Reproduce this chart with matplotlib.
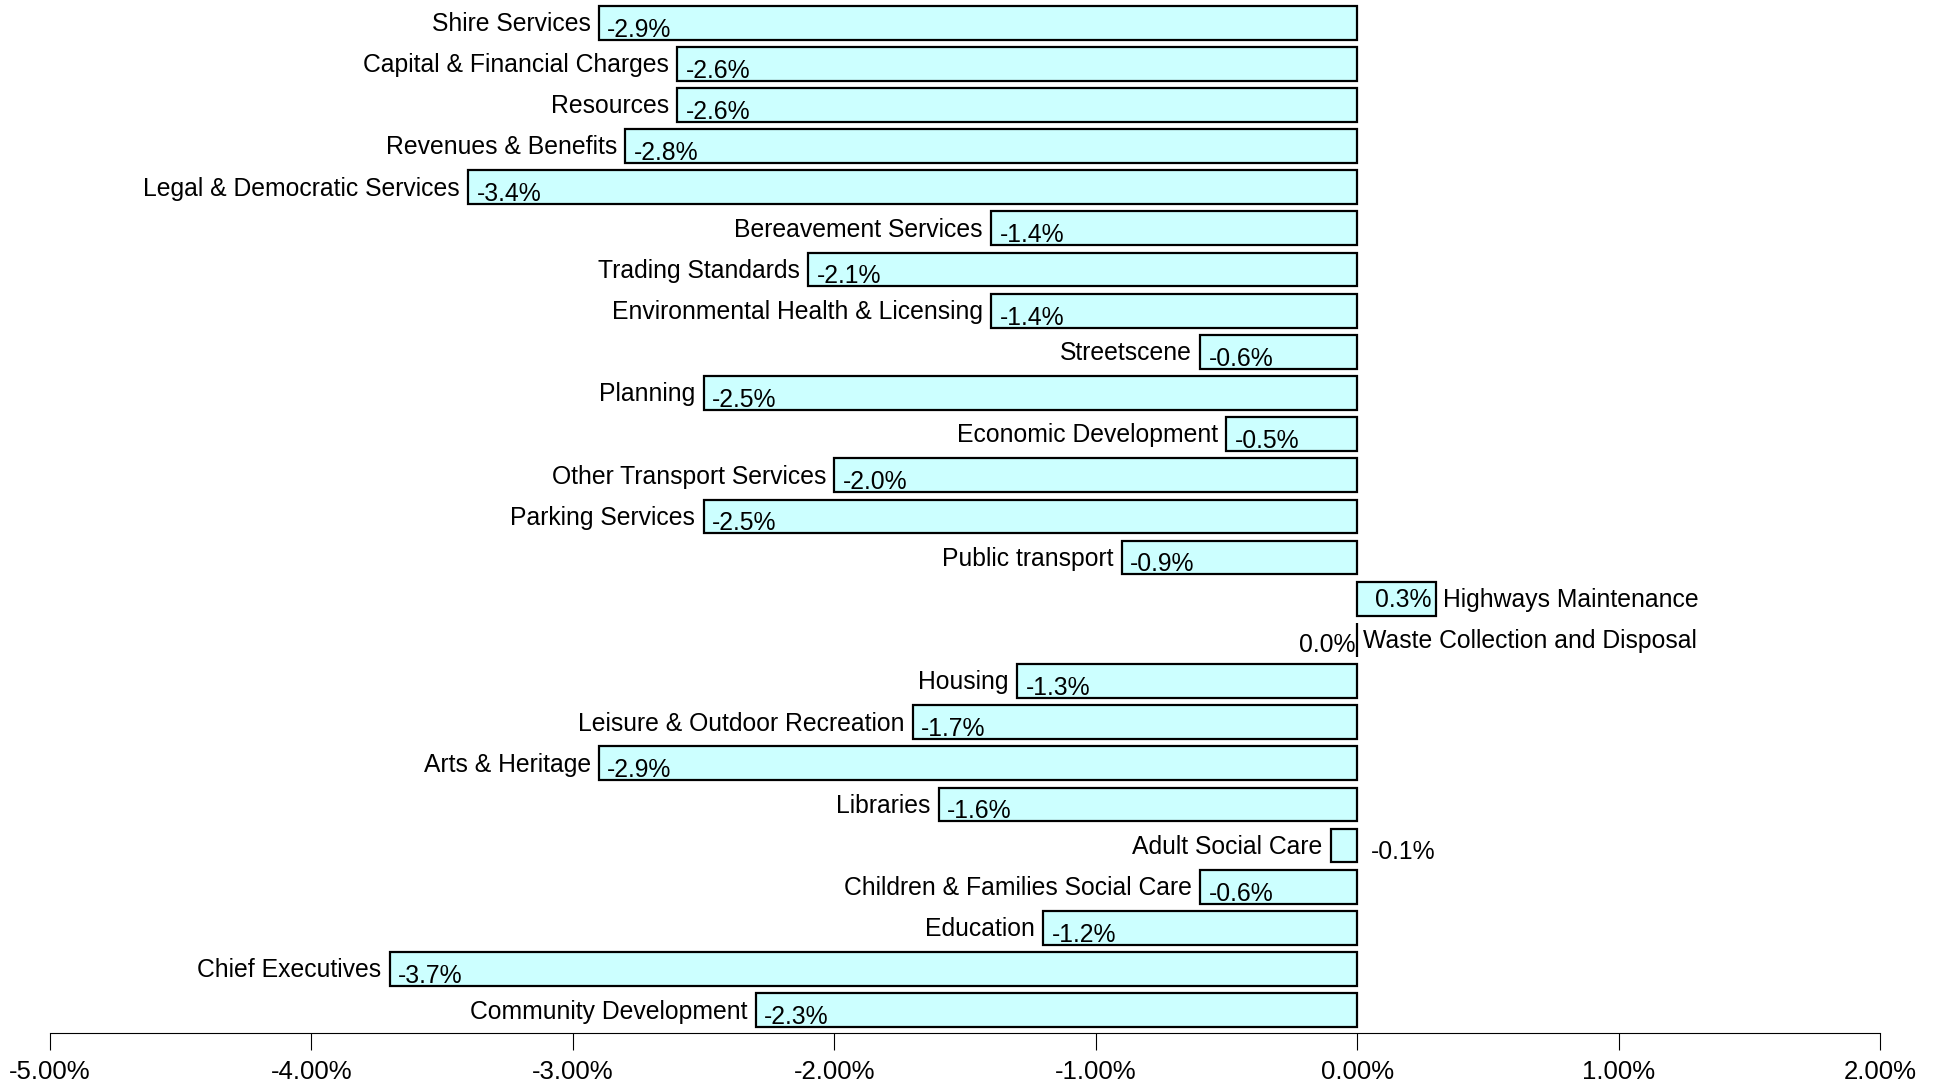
import matplotlib.pyplot as plt
from matplotlib.ticker import FuncFormatter

# bottom to top
services = ['Community Development', 'Chief Executives', 'Education',
            'Children & Families Social Care', 'Adult Social Care', 'Libraries',
            'Arts & Heritage', 'Leisure & Outdoor Recreation', 'Housing',
            'Waste Collection and Disposal', 'Highways Maintenance', 'Public transport',
            'Parking Services', 'Other Transport Services', 'Economic Development',
            'Planning', 'Streetscene', 'Environmental Health & Licensing',
            'Trading Standards', 'Bereavement Services', 'Legal & Democratic Services',
            'Revenues & Benefits', 'Resources', 'Capital & Financial Charges',
            'Shire Services']
change = [-2.3, -3.7, -1.2, -0.6, -0.1, -1.6, -2.9, -1.7, -1.3, 0.0, 0.3, -0.9,
          -2.5, -2.0, -0.5, -2.5, -0.6, -1.4, -2.1, -1.4, -3.4, -2.8, -2.6, -2.6, -2.9]
xticks = [-5, -4, -3, -2, -1, 0, 1, 2]

plt.rcParams['font.family'] = ['Liberation Sans', 'DejaVu Sans']
fs = 17.8

fig = plt.figure(figsize=(19.39, 10.83), dpi=100)
ax = fig.add_axes([0.0258, 0.046, 0.9438, 0.954])

y = list(range(len(services)))
ax.barh(y, change, height=0.82, color='#CCFFFF', edgecolor='black', linewidth=1.6)

for yi, name, v in zip(y, services, change):
    if v > 0:
        ax.annotate(f'{v:.1f}%', (v, yi), xytext=(-3, -1), textcoords='offset points',
                    ha='right', va='center', fontsize=fs)
        ax.annotate(name, (v, yi), xytext=(5, -1), textcoords='offset points',
                    ha='left', va='center', fontsize=fs)
    elif v == 0:
        ax.annotate(f'{v:.1f}%', (0, yi), xytext=(-1, -4), textcoords='offset points',
                    ha='right', va='center', fontsize=fs)
        ax.annotate(name, (0, yi), xytext=(4, -1), textcoords='offset points',
                    ha='left', va='center', fontsize=fs)
    else:
        ax.annotate(name, (v, yi), xytext=(-6, -1), textcoords='offset points',
                    ha='right', va='center', fontsize=fs)
        if v > -0.3:
            ax.annotate(f'{v:.1f}%', (0, yi), xytext=(10, -5), textcoords='offset points',
                        ha='left', va='center', fontsize=fs)
        else:
            ax.annotate(f'{v:.1f}%', (v, yi), xytext=(6, -5), textcoords='offset points',
                        ha='left', va='center', fontsize=fs)

ax.set_xlim(-5, 2)
ax.set_ylim(-0.56, 24.55)
ax.set_xticks(xticks)
ax.xaxis.set_major_formatter(FuncFormatter(lambda v, p: f'{v:.2f}%'))
ax.tick_params(axis='x', length=12, width=0.8, pad=7, labelsize=18.5, direction='out')
ax.set_yticks([])
for s in ['top', 'right', 'left']:
    ax.spines[s].set_visible(False)
ax.spines['bottom'].set_linewidth(0.8)

fig.savefig('out.png', dpi=100)
